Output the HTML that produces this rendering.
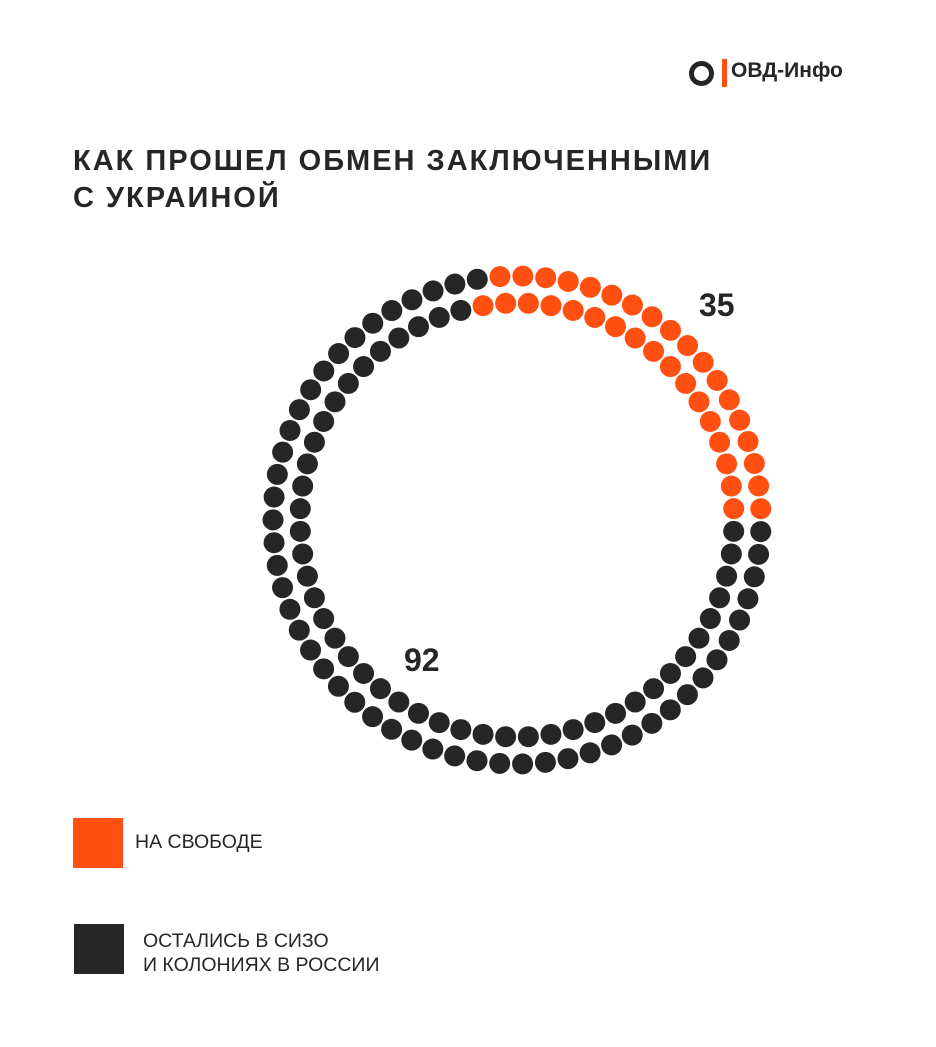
<!DOCTYPE html>
<html><head><meta charset="utf-8"><style>
body{margin:0;width:936px;height:1047px;background:#fff;position:relative;overflow:hidden;font-family:"Liberation Sans",sans-serif;color:#262626}
.t{position:absolute;white-space:nowrap}
</style></head><body>
<div>
<div class="t" style="left:689px;top:61px;width:15px;height:15px;border:5px solid #262626;border-radius:50%"></div>
<div class="t" style="left:722px;top:59px;width:5px;height:28px;background:#ff5012"></div>
<div class="t" style="left:731px;top:59px;font-size:21px;font-weight:bold">ОВД-Инфо</div>
</div>
<div class="t" style="left:73px;top:143px;font-size:29px;font-weight:bold;letter-spacing:2px;line-height:37px">КАК ПРОШЕЛ ОБМЕН ЗАКЛЮЧЕННЫМИ<br>С УКРАИНОЙ</div>
<svg class="t" style="left:0;top:0" width="936" height="1047" id="chart"></svg>
<div class="t" style="left:73px;top:818px;width:50px;height:50px;background:#ff5012"></div>
<div class="t" style="left:135px;top:831px;font-size:19.5px">НА СВОБОДЕ</div>
<div class="t" style="left:74px;top:924px;width:50px;height:50px;background:#262626"></div>
<div class="t" style="left:143px;top:929px;font-size:19.5px;line-height:24px">ОСТАЛИСЬ В СИЗО<br>И КОЛОНИЯХ В РОССИИ</div>
<script>
const categories=["На свободе","Остались в СИЗО и колониях в России"];
const values=[35,92];
const colors=["#ff5012","#262626"];
const svg=document.getElementById('chart');
const NS='http://www.w3.org/2000/svg';
const cx=517,cy=520;
const total=values[0]+values[1];
const rings=[{r:244,start:-4},{r:217,start:-9}];
const outerN=Math.round(total*67/127);
const caps=[outerN,total-outerN];
const freeOuter=Math.ceil(values[0]/2);
const freeCounts=[freeOuter,values[0]-freeOuter];
rings.forEach((rg,ri)=>{
  const n=caps[ri];
  for(let i=0;i<n;i++){
    const a=(rg.start+i*360/n)*Math.PI/180;
    const c=document.createElementNS(NS,'circle');
    c.setAttribute('cx',cx+rg.r*Math.sin(a));
    c.setAttribute('cy',cy-rg.r*Math.cos(a));
    c.setAttribute('r',10.5);
    const free=i<freeCounts[ri];
    c.setAttribute('fill',free?colors[0]:colors[1]);
    
    
    svg.appendChild(c);
  }
});
function label(txt,x,y,name){
  const t=document.createElementNS(NS,'text');
  t.setAttribute('x',x);t.setAttribute('y',y);
  t.setAttribute('font-size','32');t.setAttribute('font-weight','bold');
  t.setAttribute('fill','#262626');t.setAttribute('font-family','Liberation Sans, sans-serif');
  t.textContent=txt;
  
  
  svg.appendChild(t);
}
label(String(values[0]),699,316,'value-free');
label(String(values[1]),404,671,'value-detained');
</script>
</body></html>
